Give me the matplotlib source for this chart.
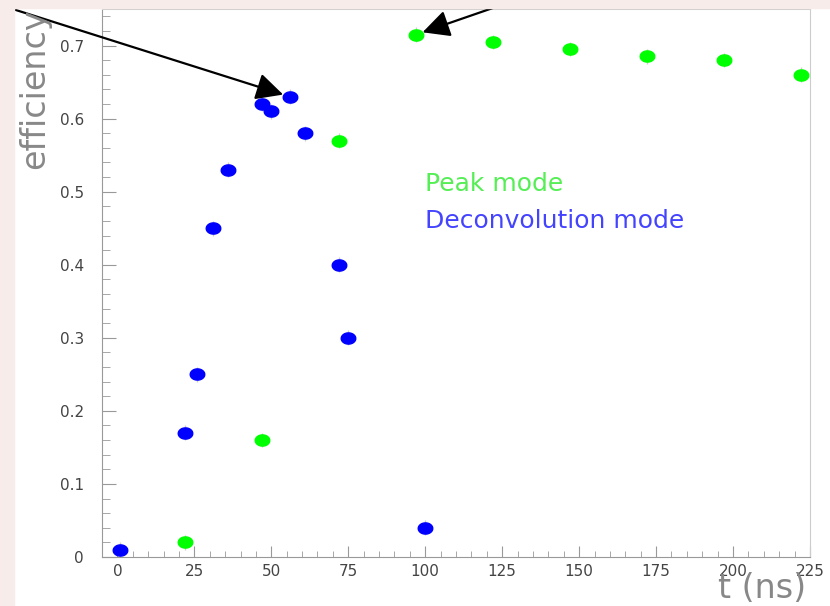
import matplotlib.pyplot as plt
import numpy as np
from matplotlib.path import Path
from matplotlib.patches import Rectangle
from matplotlib.ticker import MultipleLocator

# deconvolution mode (blue)
deconv_t = [1, 22, 26, 31, 36, 47, 50, 56, 61, 72, 75, 100]
deconv_eff = [0.01, 0.17, 0.25, 0.45, 0.53, 0.62, 0.61, 0.63, 0.58, 0.40, 0.30, 0.04]

# peak mode (green)
peak_t = [22, 47, 72, 97, 122, 147, 172, 197, 222]
peak_eff = [0.02, 0.16, 0.57, 0.715, 0.705, 0.695, 0.685, 0.68, 0.66]

err = 0.01

# slightly flattened dot like the ROOT markers
th = np.linspace(0, 2 * np.pi, 40)
ellipse = Path(np.column_stack([1.3 * np.cos(th), np.sin(th)]))

fig = plt.figure(figsize=(8.3, 6.06), dpi=100)
W, H = 830, 606

# bits of the slide background showing at the edges
fig.patches.append(Rectangle((0, 0), 14 / W, 1, transform=fig.transFigure,
                             color='#f8ecea', zorder=0))
fig.patches.append(Rectangle((0, 1 - 8 / H), 1, 8 / H, transform=fig.transFigure,
                             color='#f8ecea', zorder=0))

ax = fig.add_axes([102 / W, 49 / H, 708 / W, 548 / H])

ax.errorbar(peak_t, peak_eff, yerr=err, fmt='none', ecolor='#cccccc', elinewidth=1, zorder=2)
ax.errorbar(deconv_t, deconv_eff, yerr=err, fmt='none', ecolor='#cccccc', elinewidth=1, zorder=2)
ax.plot(peak_t, peak_eff, linestyle='none', marker=ellipse, markersize=10.5,
        color='#00ff00', zorder=3)
ax.plot(deconv_t, deconv_eff, linestyle='none', marker=ellipse, markersize=10.5,
        color='#0000ff', zorder=3)

ax.set_xlim(-5, 225)
ax.set_ylim(0, 0.75)
ax.xaxis.set_major_locator(MultipleLocator(25))
ax.xaxis.set_minor_locator(MultipleLocator(5))
ax.yaxis.set_minor_locator(MultipleLocator(0.02))
ax.set_yticks([0, 0.1, 0.2, 0.3, 0.4, 0.5, 0.6, 0.7])
ax.set_yticklabels(['0', '0.1', '0.2', '0.3', '0.4', '0.5', '0.6', '0.7'])

ax.tick_params(which='both', direction='in', colors='#999999', labelcolor='#444444',
               labelsize=11)
ax.tick_params(axis='y', which='major', length=10, pad=13)
ax.tick_params(axis='y', which='minor', length=6)
ax.tick_params(axis='x', which='major', length=8, pad=5)
ax.tick_params(axis='x', which='minor', length=4)

for side in ['left', 'bottom']:
    ax.spines[side].set_color('#999999')
for side in ['top', 'right']:
    ax.spines[side].set_color('#cccccc')

ax.text(100, 0.51, 'Peak mode', color='#55ee55', fontsize=18, va='center')
ax.text(100, 0.46, 'Deconvolution mode', color='#4444ff', fontsize=18, va='center')

fig.text(35 / W, 1 - 8 / H, 'efficiency', rotation=90, ha='center', va='top',
         fontsize=24, color='#888888')
fig.text(806 / W, 1 / H, 't (ns)', ha='right', va='bottom',
         fontsize=24, color='#888888')

arrow = dict(arrowstyle='-|>,head_length=1.1,head_width=0.55', color='black',
             lw=1.6, mutation_scale=15, shrinkA=0, shrinkB=5)
ax.annotate('', xy=(deconv_t[7], deconv_eff[7]), xycoords='data',
            xytext=(0, H - 5), textcoords='figure pixels',
            arrowprops=arrow, annotation_clip=False)
ax.annotate('', xy=(peak_t[3], peak_eff[3]), xycoords='data',
            xytext=(516, H), textcoords='figure pixels',
            arrowprops=arrow, annotation_clip=False)

plt.savefig('out.png', dpi=100)
